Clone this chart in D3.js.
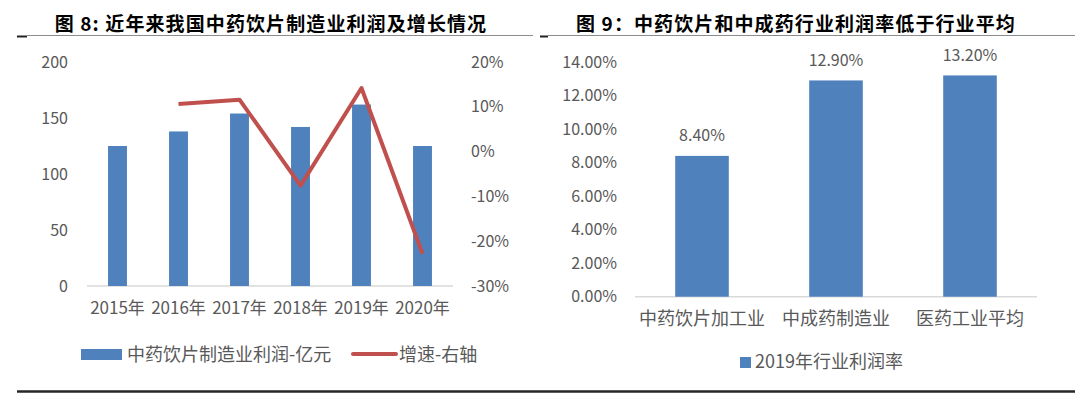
<!DOCTYPE html>
<html lang="zh">
<head>
<meta charset="UTF-8">
<title>中药饮片利润</title>
<script src="https://d3js.org/d3.v7.min.js"></script>
<style>
  body { margin: 0; background: #fff; }
  svg text { font-family: "Noto Sans CJK SC", "Noto Sans", sans-serif; fill: #595959; font-size: 18px; }
  .title { fill: #000 !important; font-weight: 700; font-size: 19px !important; letter-spacing: 1.1px; }
</style>
</head>
<body>
<svg id="chart" width="1080" height="396"></svg>
<script>
// left chart data
const years = ["2015年", "2016年", "2017年", "2018年", "2019年", "2020年"];
const profit = [125, 138, 154, 142, 162, 125];          // 亿元
const growth = [null, 0.106, 0.116, -0.076, 0.142, -0.228];
const leftTicks = [0, 50, 100, 150, 200];
const rightTicks = [-0.3, -0.2, -0.1, 0, 0.1, 0.2];

// right chart data
const sectors = ["中药饮片加工业", "中成药制造业", "医药工业平均"];
const margin2019 = [0.084, 0.129, 0.132];
const marginTicks = [0, 0.02, 0.04, 0.06, 0.08, 0.10, 0.12, 0.14];

const blue = "#4f81bd", red = "#c0504d";
const svg = d3.select("#chart");
// excel style hyphen instead of unicode minus
const pct0 = d => d3.format(".0%")(d).replace("−", "-");
const pct2 = d => d3.format(".2%")(d).replace("−", "-");

// frame lines
svg.append("line").attr("x1", 27).attr("x2", 533).attr("y1", 35.5).attr("y2", 35.5).attr("stroke", "#8c8c8c").attr("stroke-width", 1);
svg.append("line").attr("x1", 548).attr("x2", 1075).attr("y1", 35.5).attr("y2", 35.5).attr("stroke", "#8c8c8c").attr("stroke-width", 1);
svg.append("line").attr("x1", 17).attr("x2", 27).attr("y1", 36.5).attr("y2", 36.5).attr("stroke", "#222").attr("stroke-width", 2);
svg.append("line").attr("x1", 540).attr("x2", 548).attr("y1", 36.5).attr("y2", 36.5).attr("stroke", "#222").attr("stroke-width", 2);
svg.append("line").attr("x1", 17).attr("x2", 1075).attr("y1", 391.5).attr("y2", 391.5).attr("stroke", "#262626").attr("stroke-width", 2.5);

// titles
svg.append("text").attr("class", "title").attr("x", 271).attr("y", 31).attr("text-anchor", "middle")
  .text("图 8: 近年来我国中药饮片制造业利润及增长情况");
svg.append("text").attr("class", "title").attr("x", 796).attr("y", 31).attr("text-anchor", "middle")
  .text("图 9：中药饮片和中成药行业利润率低于行业平均");

// ---- left chart ----
const x1 = d3.scaleBand().domain(years).range([87, 453]).padding(0);
const yL = d3.scaleLinear().domain([0, 200]).range([286, 62]);
const yR = d3.scaleLinear().domain([-0.3, 0.2]).range([286, 62]);

const axL = svg.append("g").attr("transform", "translate(68,0)")
  .call(d3.axisLeft(yL).tickValues(leftTicks).tickSize(0).tickPadding(0));
const axR = svg.append("g").attr("transform", "translate(471,0)")
  .call(d3.axisRight(yR).tickValues(rightTicks).tickSize(0).tickPadding(0).tickFormat(pct0));
const axX = svg.append("g").attr("transform", "translate(0,302)")
  .call(d3.axisBottom(x1).tickSize(0).tickPadding(0));
[axL, axR].forEach(a => {
  a.select(".domain").remove();
  a.selectAll("text").attr("fill", "#595959").style("font-size", "16px");
});
axX.select(".domain").remove();
axX.selectAll("text").attr("fill", "#595959").style("font-size", "17px");

svg.append("line").attr("x1", 87).attr("x2", 453).attr("y1", 286).attr("y2", 286)
  .attr("stroke", "#d9d9d9").attr("stroke-width", 1.5);

const bw1 = x1.bandwidth() * 0.31;
svg.selectAll(".bar1").data(profit).enter().append("rect")
  .attr("x", (d, i) => x1(years[i]) + x1.bandwidth() / 2 - bw1 / 2)
  .attr("y", d => yL(d))
  .attr("width", bw1)
  .attr("height", d => yL(0) - yL(d))
  .attr("fill", blue);

const line = d3.line()
  .defined(d => d.v !== null)
  .x(d => x1(d.k) + x1.bandwidth() / 2)
  .y(d => yR(d.v));
svg.append("path")
  .datum(years.map((k, i) => ({ k: k, v: growth[i] })))
  .attr("d", line).attr("fill", "none").attr("stroke", red)
  .attr("stroke-width", 4).attr("stroke-linejoin", "round");

// left legend
svg.append("rect").attr("x", 81).attr("y", 349).attr("width", 41).attr("height", 11).attr("fill", blue);
svg.append("text").attr("x", 127).attr("y", 355).attr("dy", "0.35em").text("中药饮片制造业利润-亿元");
svg.append("line").attr("x1", 353).attr("x2", 396).attr("y1", 354).attr("y2", 354)
  .attr("stroke", red).attr("stroke-width", 4).attr("stroke-linecap", "round");
svg.append("text").attr("x", 399).attr("y", 355).attr("dy", "0.35em").text("增速-右轴");

// ---- right chart ----
const x2 = d3.scaleBand().domain(sectors).range([635, 1037]).padding(0);
const y2 = d3.scaleLinear().domain([0, 0.14]).range([296.7, 62]);

const ax2 = svg.append("g").attr("transform", "translate(617,0)")
  .call(d3.axisLeft(y2).tickValues(marginTicks).tickSize(0).tickPadding(0).tickFormat(pct2));
const ax2x = svg.append("g").attr("transform", "translate(0,312)")
  .call(d3.axisBottom(x2).tickSize(0).tickPadding(0));
ax2.select(".domain").remove();
ax2.selectAll("text").attr("fill", "#595959").style("font-size", "16px");
ax2x.select(".domain").remove();
ax2x.selectAll("text").attr("fill", "#595959").style("font-size", "18px");

svg.append("line").attr("x1", 635).attr("x2", 1037).attr("y1", 296.7).attr("y2", 296.7)
  .attr("stroke", "#d9d9d9").attr("stroke-width", 1.5);

const bw2 = x2.bandwidth() * 0.4;
svg.selectAll(".bar2").data(margin2019).enter().append("rect")
  .attr("x", (d, i) => x2(sectors[i]) + x2.bandwidth() / 2 - bw2 / 2)
  .attr("y", d => y2(d))
  .attr("width", bw2)
  .attr("height", d => y2(0) - y2(d))
  .attr("fill", blue);

svg.selectAll(".lbl2").data(margin2019).enter().append("text")
  .attr("x", (d, i) => x2(sectors[i]) + x2.bandwidth() / 2)
  .attr("y", d => y2(d) - 20)
  .attr("dy", "0.35em")
  .attr("text-anchor", "middle")
  .style("font-size", "16px")
  .text(pct2);

// right legend
svg.append("rect").attr("x", 740).attr("y", 357).attr("width", 11).attr("height", 11).attr("fill", blue);
svg.append("text").attr("x", 755).attr("y", 362).attr("dy", "0.35em").text("2019年行业利润率");
</script>
</body>
</html>
